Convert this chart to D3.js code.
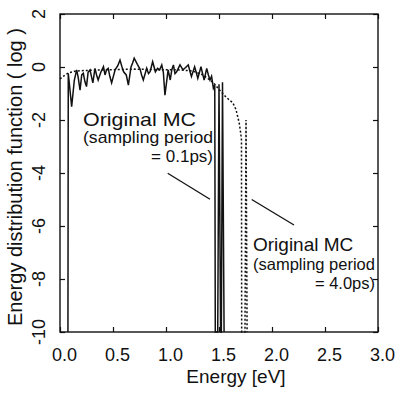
<!DOCTYPE html>
<html>
<head>
<meta charset="utf-8">
<script src="https://cdn.jsdelivr.net/npm/d3@7"></script>
<style>
  body { margin: 0; background: #fff; }
  svg { display: block; }
  text { font-family: "Liberation Sans", Arial, sans-serif; fill: #111; }
</style>
</head>
<body>
<div id="chart"></div>
<script>
// sampling period 0.1ps (solid)
const solidEnergy = [0.075, 0.078, 0.095, 0.11, 0.135, 0.157, 0.172, 0.189, 0.205, 0.22, 0.235, 0.25, 0.265, 0.283, 0.31, 0.33, 0.345, 0.36, 0.385, 0.41, 0.425, 0.44, 0.455, 0.47, 0.487, 0.52, 0.545, 0.566, 0.585, 0.6, 0.625, 0.645, 0.67, 0.685, 0.70, 0.73, 0.755, 0.77, 0.786, 0.818, 0.835, 0.85, 0.874, 0.9, 0.92, 0.94, 0.96, 0.975, 0.99, 1.02, 1.04, 1.055, 1.07, 1.085, 1.1, 1.132, 1.16, 1.185, 1.21, 1.225, 1.24, 1.27, 1.285, 1.3, 1.33, 1.345, 1.36, 1.384, 1.4, 1.415, 1.43, 1.447, 1.46, 1.465, 1.488, 1.50, 1.515, 1.522, 1.533, 1.548];
const solidLog = [-10, -0.24, -0.9, -1.5, -0.5, -0.11, -0.4, -0.87, -0.3, -0.24, -0.55, -0.74, -0.2, -0.11, -0.6, -0.05, -0.3, -0.49, -0.2, 0.01, -0.3, -0.1, -0.05, -0.35, -0.6, -0.11, 0.05, 0.26, 0.0, -0.18, -0.3, -0.68, 0.0, 0.15, 0.33, 0.1, -0.08, -0.3, -0.49, -0.05, -0.25, -0.18, 0.2, -0.18, -0.05, -0.11, 0.08, -0.2, -1.06, -0.11, -0.49, -0.1, 0.08, -0.25, -0.18, 0.08, -0.11, -0.02, 0.08, -0.15, -0.36, 0.01, -0.2, -0.43, 0.01, -0.25, -0.49, -0.05, -0.3, -0.49, -0.35, -0.8, -0.68, -10, -10, -0.65, -10, -10, -0.58, -10];

// sampling period 4.0ps (dotted)
const dottedEnergy = [0.0, 0.03, 0.08, 0.15, 0.3, 0.5, 0.7, 0.9, 1.1, 1.25, 1.35, 1.45, 1.5, 1.57, 1.63, 1.66, 1.69, 1.705, 1.712, 1.714, 1.745, 1.755, 1.765];
const dottedLog = [-0.45, -0.35, -0.22, -0.15, -0.12, -0.1, -0.08, -0.1, -0.1, -0.15, -0.3, -0.6, -0.85, -1.15, -1.35, -1.6, -2.1, -2.5, -2.75, -10, -10, -2.0, -10];

const xTicks = [0, 0.5, 1.0, 1.5, 2.0, 2.5, 3.0];
const yTicks = [-10, -8, -6, -4, -2, 0, 2];

const width = 396, height = 393;
const x = d3.scaleLinear().domain([0, 3]).range([60, 378]);
const y = d3.scaleLinear().domain([-10, 2]).range([332, 14]);

const svg = d3.select("#chart").append("svg")
  .attr("width", width)
  .attr("height", height);

// ticks, inside the frame on all four sides
svg.append("g")
  .attr("transform", `translate(0,${y(-10)})`)
  .call(d3.axisBottom(x).tickValues(xTicks).tickSize(-5).tickPadding(16)
    .tickFormat(d3.format(".1f")))
  .call(g => g.select(".domain").remove())
  .call(g => g.selectAll("text").style("font-size", "18px").attr("dx", 4));

svg.append("g")
  .attr("transform", `translate(0,${y(2)})`)
  .call(d3.axisTop(x).tickValues(xTicks).tickSize(-5).tickFormat(""))
  .call(g => g.select(".domain").remove());

svg.append("g")
  .attr("transform", `translate(${x(0)},0)`)
  .call(d3.axisLeft(y).tickValues(yTicks).tickSize(-5).tickFormat(""))
  .call(g => g.select(".domain").remove());

svg.append("g")
  .attr("transform", `translate(${x(3)},0)`)
  .call(d3.axisRight(y).tickValues(yTicks).tickSize(-5).tickFormat(""))
  .call(g => g.select(".domain").remove());

svg.selectAll(".tick line").attr("stroke", "#111").attr("stroke-width", 1.2);

// rotated y tick labels
svg.append("g").selectAll("text")
  .data(yTicks)
  .join("text")
  .attr("x", 45)
  .attr("y", d => y(d))
  .attr("transform", d => `rotate(-90,45,${y(d)})`)
  .attr("text-anchor", "middle")
  .style("font-size", "18px")
  .text(d => d);

// frame
svg.append("rect")
  .attr("x", x(0))
  .attr("y", y(2))
  .attr("width", x(3) - x(0))
  .attr("height", y(-10) - y(2))
  .attr("fill", "none")
  .attr("stroke", "#111")
  .attr("stroke-width", 1.4);

const line = d3.line()
  .x(d => x(d[0]))
  .y(d => y(d[1]));

svg.append("path")
  .datum(dottedEnergy.map((e, i) => [e, dottedLog[i]]))
  .attr("d", line)
  .attr("fill", "none")
  .attr("stroke", "#111")
  .attr("stroke-width", 1.5)
  .attr("stroke-dasharray", "2,2");

svg.append("path")
  .datum(solidEnergy.map((e, i) => [e, solidLog[i]]))
  .attr("d", line)
  .attr("fill", "none")
  .attr("stroke", "#111")
  .attr("stroke-width", 1.5)
  .attr("stroke-linejoin", "miter");

// annotations
const note1 = svg.append("g");
note1.append("text").attr("x", 83).attr("y", 126).style("font-size", "19px")
  .attr("textLength", 113).attr("lengthAdjust", "spacingAndGlyphs").text("Original MC");
note1.append("text").attr("x", 83).attr("y", 143).style("font-size", "17px")
  .attr("textLength", 130).attr("lengthAdjust", "spacingAndGlyphs").text("(sampling period");
note1.append("text").attr("x", 213).attr("y", 162).attr("text-anchor", "end").style("font-size", "17px").text("= 0.1ps)");
note1.append("line").attr("x1", 167.7).attr("y1", 173.3).attr("x2", 210).attr("y2", 199.3)
  .attr("stroke", "#111").attr("stroke-width", 1.3);

const note2 = svg.append("g");
note2.append("text").attr("x", 253).attr("y", 251).style("font-size", "19px").text("Original MC");
note2.append("text").attr("x", 253).attr("y", 270).style("font-size", "16.5px").text("(sampling period");
note2.append("text").attr("x", 375).attr("y", 289).attr("text-anchor", "end").style("font-size", "16.5px").text("= 4.0ps)");
note2.append("line").attr("x1", 251.7).attr("y1", 199.5).attr("x2", 294).attr("y2", 225)
  .attr("stroke", "#111").attr("stroke-width", 1.3);

// axis titles
svg.append("text")
  .attr("x", 236)
  .attr("y", 383)
  .attr("text-anchor", "middle")
  .style("font-size", "19px")
  .text("Energy [eV]");

svg.append("text")
  .attr("transform", "translate(22,177) rotate(-90)")
  .attr("text-anchor", "middle")
  .style("font-size", "20px")
  .text("Energy distribution function ( log )");
</script>
</body>
</html>
